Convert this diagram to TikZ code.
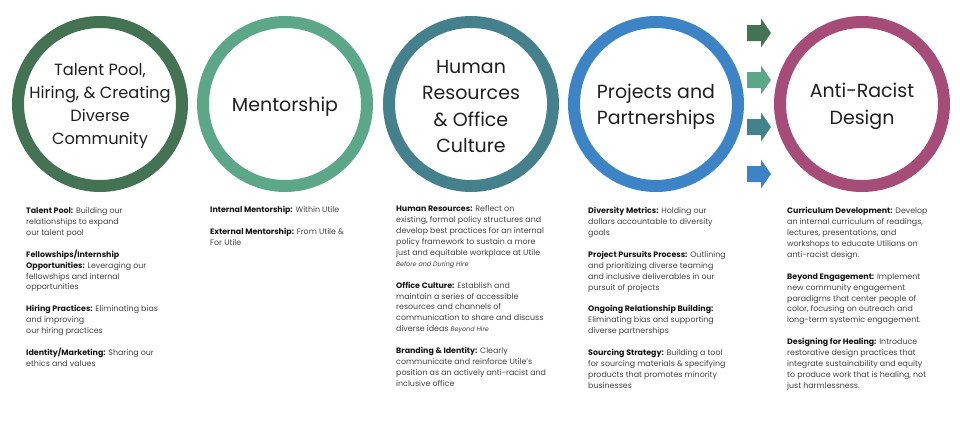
\documentclass[tikz,border=0pt]{standalone}
\usepackage{fontspec}
\setmainfont{Poppins}
\definecolor{cA}{HTML}{437353}
\definecolor{cB}{HTML}{5BA788}
\definecolor{cC}{HTML}{45808D}
\definecolor{cD}{HTML}{3D84C6}
\definecolor{cE}{HTML}{A54D78}
\definecolor{bodytxt}{HTML}{404040}
\definecolor{headtxt}{HTML}{151515}
\newcommand{\hd}[1]{{\bfseries\color{headtxt}#1}}
\newcommand{\nt}[1]{{\fontsize{6.4pt}{10.95pt}\selectfont\itshape #1}}
\begin{document}
\begin{tikzpicture}[x=1pt,y=-1pt,
  ring/.style={circle,draw=#1,line width=12pt,minimum size=164pt,inner sep=0pt},
  lbl/.style={align=center,inner sep=0pt,text=black!88,yshift=-2.5pt,
    font={\fontsize{19pt}{26.5pt}\selectfont}},
  col/.style={anchor=base west,inner sep=0pt,align=left,text=bodytxt,
    font={\fontsize{7.9pt}{10.95pt}\selectfont}}]
\useasboundingbox (0,0) rectangle (960,424);
\fill[white] (0,0) rectangle (960,424);

\node[ring=cA] (c1) at (100,104) {};
\node[ring=cB] (c2) at (285,104) {};
\node[ring=cC] (c3) at (471,104) {};
\node[ring=cD] (c4) at (656,104) {};
\node[ring=cE] (c5) at (862,104) {};

\node[lbl,font={\fontsize{16.2pt}{23pt}\selectfont}] (l1) at (c1.center) {Talent Pool,\\Hiring, \& Creating\\Diverse\\Community};
\node[lbl] (l2) at (c2.center) {Mentorship};
\node[lbl] (l3) at (c3.center) {Human\\Resources\\\& Office\\Culture};
\node[lbl] (l4) at (c4.center) {Projects and\\Partnerships};
\node[lbl] (l5) at (c5.center) {Anti-Racist\\Design};

\foreach \yy/\cc in {33/cA,80/cB,127/cC,174/cD}{
  \fill[\cc] (747,\yy-8) -- (761,\yy-8) -- (761,\yy-14.5) -- (771,\yy) -- (761,\yy+14.5) -- (761,\yy+8) -- (747,\yy+8) -- cycle;
}

\node[col] (t1) at (26,366.6) {\hd{Talent Pool:} Building our\\
relationships to expand\\
our talent pool\\[10.95pt]
\hd{Fellowships/Internship}\\
\hd{Opportunities:} Leveraging our\\
fellowships and internal\\
opportunities\\[10.95pt]
\hd{Hiring Practices:} Eliminating bias\\
and improving\\
our hiring practices\\[10.95pt]
\hd{Identity/Marketing:} Sharing our\\
ethics and values};

\node[col] (t2) at (210,245.6) {\hd{Internal Mentorship:} Within Utile\\[10.95pt]
\hd{External Mentorship:} From Utile \&\\
For Utile};

\node[col] (t3) at (396,386.6) {\hd{Human Resources:} Reflect on\\
existing, formal policy structures and\\
develop best practices for an internal\\
policy framework to sustain a more\\
just and equitable workplace at Utile\\
\nt{Before and During Hire}\\[10.95pt]
\hd{Office Culture:} Establish and\\
maintain a series of accessible\\
resources and channels of\\
communication to share and discuss\\
diverse ideas \nt{Beyond Hire}\\[10.95pt]
\hd{Branding \& Identity:} Clearly\\
communicate and reinforce Utile’s\\
position as an actively anti-racist and\\
inclusive office};

\node[col] (t4) at (588,388.6) {\hd{Diversity Metrics:} Holding our\\
dollars accountable to diversity\\
goals\\[10.95pt]
\hd{Project Pursuits Process:} Outlining\\
and prioritizing diverse teaming\\
and inclusive deliverables in our\\
pursuit of projects\\[10.95pt]
\hd{Ongoing Relationship Building:}\\
Eliminating bias and supporting\\
diverse partnerships\\[10.95pt]
\hd{Sourcing Strategy:} Building a tool\\
for sourcing materials \& specifying\\
products that promotes minority\\
businesses};

\node[col] (t5) at (787,388.6) {\hd{Curriculum Development:} Develop\\
an internal curriculum of readings,\\
lectures, presentations, and\\
workshops to educate Utilians on\\
anti-racist design.\\[10.95pt]
\hd{Beyond Engagement:} Implement\\
new community engagement\\
paradigms that center people of\\
color, focusing on outreach and\\
long-term systemic engagement.\\[10.95pt]
\hd{Designing for Healing:} Introduce\\
restorative design practices that\\
integrate sustainability and equity\\
to produce work that is healing, not\\
just harmlessness.};
\end{tikzpicture}
\end{document}
